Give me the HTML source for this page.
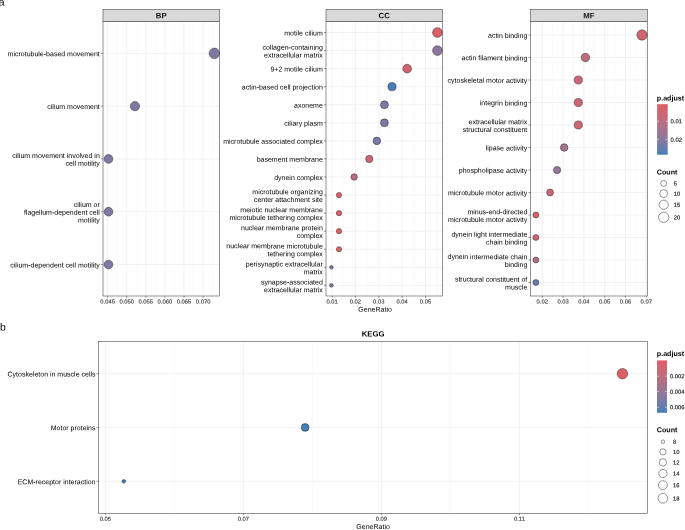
<!DOCTYPE html>
<html><head><meta charset="utf-8"><title>Enrichment dotplot</title>
<style>
html,body{margin:0;padding:0;background:#fff;}
body{width:685px;height:530px;overflow:hidden;font-family:"Liberation Sans",sans-serif;}
svg{display:block;will-change:transform;}
text{font-family:"Liberation Sans",sans-serif;}
</style></head>
<body>
<svg width="685" height="530" viewBox="0 0 685 530">
<defs><linearGradient id="grad" x1="0" y1="0" x2="0" y2="1"><stop offset="0%" stop-color="#df5e66"/><stop offset="10%" stop-color="#d5636e"/><stop offset="20%" stop-color="#ca6876"/><stop offset="30%" stop-color="#be6c7e"/><stop offset="40%" stop-color="#b27087"/><stop offset="50%" stop-color="#a5738f"/><stop offset="60%" stop-color="#977697"/><stop offset="70%" stop-color="#87799f"/><stop offset="80%" stop-color="#757ba7"/><stop offset="90%" stop-color="#5f7eb0"/><stop offset="100%" stop-color="#4080b8"/></linearGradient></defs>
<rect x="0" y="0" width="685" height="530" fill="#fff"/>
<rect x="103.00" y="21.50" width="116.50" height="274.50" fill="#fff"/>
<line x1="117.15" x2="117.15" y1="21.50" y2="296.00" stroke="#f4f4f4" stroke-width="0.45"/>
<line x1="136.25" x2="136.25" y1="21.50" y2="296.00" stroke="#f4f4f4" stroke-width="0.45"/>
<line x1="155.35" x2="155.35" y1="21.50" y2="296.00" stroke="#f4f4f4" stroke-width="0.45"/>
<line x1="174.45" x2="174.45" y1="21.50" y2="296.00" stroke="#f4f4f4" stroke-width="0.45"/>
<line x1="193.55" x2="193.55" y1="21.50" y2="296.00" stroke="#f4f4f4" stroke-width="0.45"/>
<line x1="212.65" x2="212.65" y1="21.50" y2="296.00" stroke="#f4f4f4" stroke-width="0.45"/>
<line x1="107.60" x2="107.60" y1="21.50" y2="296.00" stroke="#ededed" stroke-width="0.7"/>
<line x1="126.70" x2="126.70" y1="21.50" y2="296.00" stroke="#ededed" stroke-width="0.7"/>
<line x1="145.80" x2="145.80" y1="21.50" y2="296.00" stroke="#ededed" stroke-width="0.7"/>
<line x1="164.90" x2="164.90" y1="21.50" y2="296.00" stroke="#ededed" stroke-width="0.7"/>
<line x1="184.00" x2="184.00" y1="21.50" y2="296.00" stroke="#ededed" stroke-width="0.7"/>
<line x1="203.10" x2="203.10" y1="21.50" y2="296.00" stroke="#ededed" stroke-width="0.7"/>
<line x1="103.00" x2="219.50" y1="53.37" y2="53.37" stroke="#ededed" stroke-width="0.7"/>
<line x1="103.00" x2="219.50" y1="106.16" y2="106.16" stroke="#ededed" stroke-width="0.7"/>
<line x1="103.00" x2="219.50" y1="158.95" y2="158.95" stroke="#ededed" stroke-width="0.7"/>
<line x1="103.00" x2="219.50" y1="211.74" y2="211.74" stroke="#ededed" stroke-width="0.7"/>
<line x1="103.00" x2="219.50" y1="264.53" y2="264.53" stroke="#ededed" stroke-width="0.7"/>
<circle cx="214.35" cy="53.37" r="5.25" fill="#7f7aa3" stroke="#1a1a1a" stroke-opacity="0.88" stroke-width="0.5"/>
<text x="99.80" y="56.27" transform="rotate(0.03 99.80 56.27)" text-anchor="end" font-size="7.0" fill="#000" font-family="Liberation Sans, sans-serif">microtubule-based movement</text>
<circle cx="134.96" cy="106.16" r="4.62" fill="#7f7aa3" stroke="#1a1a1a" stroke-opacity="0.88" stroke-width="0.5"/>
<text x="99.80" y="109.06" transform="rotate(0.03 99.80 109.06)" text-anchor="end" font-size="7.0" fill="#000" font-family="Liberation Sans, sans-serif">cilium movement</text>
<circle cx="108.50" cy="158.95" r="4.37" fill="#7f7aa3" stroke="#1a1a1a" stroke-opacity="0.88" stroke-width="0.5"/>
<text x="99.80" y="158.12" transform="rotate(0.03 99.80 158.12)" text-anchor="end" font-size="7.0" fill="#000" font-family="Liberation Sans, sans-serif">cilium movement involved in</text>
<text x="99.80" y="165.88" transform="rotate(0.03 99.80 165.88)" text-anchor="end" font-size="7.0" fill="#000" font-family="Liberation Sans, sans-serif">cell motility</text>
<circle cx="108.50" cy="211.74" r="4.37" fill="#7f7aa3" stroke="#1a1a1a" stroke-opacity="0.88" stroke-width="0.5"/>
<text x="99.80" y="207.04" transform="rotate(0.03 99.80 207.04)" text-anchor="end" font-size="7.0" fill="#000" font-family="Liberation Sans, sans-serif">cilium or</text>
<text x="99.80" y="214.79" transform="rotate(0.03 99.80 214.79)" text-anchor="end" font-size="7.0" fill="#000" font-family="Liberation Sans, sans-serif">flagellum-dependent cell</text>
<text x="99.80" y="222.54" transform="rotate(0.03 99.80 222.54)" text-anchor="end" font-size="7.0" fill="#000" font-family="Liberation Sans, sans-serif">motility</text>
<circle cx="108.50" cy="264.53" r="4.37" fill="#7f7aa3" stroke="#1a1a1a" stroke-opacity="0.88" stroke-width="0.5"/>
<text x="99.80" y="267.43" transform="rotate(0.03 99.80 267.43)" text-anchor="end" font-size="7.0" fill="#000" font-family="Liberation Sans, sans-serif">cilium-dependent cell motility</text>
<rect x="103.00" y="21.50" width="116.50" height="274.50" fill="none" stroke="#3d3d3d" stroke-width="0.55"/>
<rect x="103.00" y="9.50" width="116.50" height="12.00" fill="#d9d9d9" stroke="#3d3d3d" stroke-width="0.55"/>
<text transform="rotate(0.03 161.25 18.20)" x="161.25" y="18.20" text-anchor="middle" font-size="7.8" font-weight="bold" fill="#111" font-family="Liberation Sans, sans-serif">BP</text>
<line x1="101.00" x2="103.00" y1="53.37" y2="53.37" stroke="#333" stroke-width="0.55"/>
<line x1="101.00" x2="103.00" y1="106.16" y2="106.16" stroke="#333" stroke-width="0.55"/>
<line x1="101.00" x2="103.00" y1="158.95" y2="158.95" stroke="#333" stroke-width="0.55"/>
<line x1="101.00" x2="103.00" y1="211.74" y2="211.74" stroke="#333" stroke-width="0.55"/>
<line x1="101.00" x2="103.00" y1="264.53" y2="264.53" stroke="#333" stroke-width="0.55"/>
<line x1="107.60" x2="107.60" y1="296.00" y2="297.70" stroke="#333" stroke-width="0.55"/>
<text transform="rotate(0.03 107.60 303.50)" x="107.60" y="303.50" text-anchor="middle" font-size="5.85" fill="#333" stroke="#333" stroke-width="0.12" font-family="Liberation Sans, sans-serif">0.045</text>
<line x1="126.70" x2="126.70" y1="296.00" y2="297.70" stroke="#333" stroke-width="0.55"/>
<text transform="rotate(0.03 126.70 303.50)" x="126.70" y="303.50" text-anchor="middle" font-size="5.85" fill="#333" stroke="#333" stroke-width="0.12" font-family="Liberation Sans, sans-serif">0.050</text>
<line x1="145.80" x2="145.80" y1="296.00" y2="297.70" stroke="#333" stroke-width="0.55"/>
<text transform="rotate(0.03 145.80 303.50)" x="145.80" y="303.50" text-anchor="middle" font-size="5.85" fill="#333" stroke="#333" stroke-width="0.12" font-family="Liberation Sans, sans-serif">0.055</text>
<line x1="164.90" x2="164.90" y1="296.00" y2="297.70" stroke="#333" stroke-width="0.55"/>
<text transform="rotate(0.03 164.90 303.50)" x="164.90" y="303.50" text-anchor="middle" font-size="5.85" fill="#333" stroke="#333" stroke-width="0.12" font-family="Liberation Sans, sans-serif">0.060</text>
<line x1="184.00" x2="184.00" y1="296.00" y2="297.70" stroke="#333" stroke-width="0.55"/>
<text transform="rotate(0.03 184.00 303.50)" x="184.00" y="303.50" text-anchor="middle" font-size="5.85" fill="#333" stroke="#333" stroke-width="0.12" font-family="Liberation Sans, sans-serif">0.065</text>
<line x1="203.10" x2="203.10" y1="296.00" y2="297.70" stroke="#333" stroke-width="0.55"/>
<text transform="rotate(0.03 203.10 303.50)" x="203.10" y="303.50" text-anchor="middle" font-size="5.85" fill="#333" stroke="#333" stroke-width="0.12" font-family="Liberation Sans, sans-serif">0.070</text>
<rect x="326.00" y="21.50" width="116.50" height="274.50" fill="#fff"/>
<line x1="343.78" x2="343.78" y1="21.50" y2="296.00" stroke="#f4f4f4" stroke-width="0.45"/>
<line x1="367.12" x2="367.12" y1="21.50" y2="296.00" stroke="#f4f4f4" stroke-width="0.45"/>
<line x1="390.48" x2="390.48" y1="21.50" y2="296.00" stroke="#f4f4f4" stroke-width="0.45"/>
<line x1="413.83" x2="413.83" y1="21.50" y2="296.00" stroke="#f4f4f4" stroke-width="0.45"/>
<line x1="437.18" x2="437.18" y1="21.50" y2="296.00" stroke="#f4f4f4" stroke-width="0.45"/>
<line x1="332.10" x2="332.10" y1="21.50" y2="296.00" stroke="#ededed" stroke-width="0.7"/>
<line x1="355.45" x2="355.45" y1="21.50" y2="296.00" stroke="#ededed" stroke-width="0.7"/>
<line x1="378.80" x2="378.80" y1="21.50" y2="296.00" stroke="#ededed" stroke-width="0.7"/>
<line x1="402.15" x2="402.15" y1="21.50" y2="296.00" stroke="#ededed" stroke-width="0.7"/>
<line x1="425.50" x2="425.50" y1="21.50" y2="296.00" stroke="#ededed" stroke-width="0.7"/>
<line x1="326.00" x2="442.50" y1="32.54" y2="32.54" stroke="#ededed" stroke-width="0.7"/>
<line x1="326.00" x2="442.50" y1="50.59" y2="50.59" stroke="#ededed" stroke-width="0.7"/>
<line x1="326.00" x2="442.50" y1="68.65" y2="68.65" stroke="#ededed" stroke-width="0.7"/>
<line x1="326.00" x2="442.50" y1="86.71" y2="86.71" stroke="#ededed" stroke-width="0.7"/>
<line x1="326.00" x2="442.50" y1="104.77" y2="104.77" stroke="#ededed" stroke-width="0.7"/>
<line x1="326.00" x2="442.50" y1="122.83" y2="122.83" stroke="#ededed" stroke-width="0.7"/>
<line x1="326.00" x2="442.50" y1="140.89" y2="140.89" stroke="#ededed" stroke-width="0.7"/>
<line x1="326.00" x2="442.50" y1="158.95" y2="158.95" stroke="#ededed" stroke-width="0.7"/>
<line x1="326.00" x2="442.50" y1="177.01" y2="177.01" stroke="#ededed" stroke-width="0.7"/>
<line x1="326.00" x2="442.50" y1="195.07" y2="195.07" stroke="#ededed" stroke-width="0.7"/>
<line x1="326.00" x2="442.50" y1="213.13" y2="213.13" stroke="#ededed" stroke-width="0.7"/>
<line x1="326.00" x2="442.50" y1="231.19" y2="231.19" stroke="#ededed" stroke-width="0.7"/>
<line x1="326.00" x2="442.50" y1="249.25" y2="249.25" stroke="#ededed" stroke-width="0.7"/>
<line x1="326.00" x2="442.50" y1="267.31" y2="267.31" stroke="#ededed" stroke-width="0.7"/>
<line x1="326.00" x2="442.50" y1="285.36" y2="285.36" stroke="#ededed" stroke-width="0.7"/>
<circle cx="437.44" cy="32.54" r="4.84" fill="#dd5f68" stroke="#1a1a1a" stroke-opacity="0.88" stroke-width="0.5"/>
<text x="322.80" y="35.44" transform="rotate(0.03 322.80 35.44)" text-anchor="end" font-size="7.0" fill="#000" font-family="Liberation Sans, sans-serif">motile cilium</text>
<circle cx="437.44" cy="50.59" r="4.84" fill="#8f779b" stroke="#1a1a1a" stroke-opacity="0.88" stroke-width="0.5"/>
<text x="322.80" y="49.77" transform="rotate(0.03 322.80 49.77)" text-anchor="end" font-size="7.0" fill="#000" font-family="Liberation Sans, sans-serif">collagen-containing</text>
<text x="322.80" y="57.52" transform="rotate(0.03 322.80 57.52)" text-anchor="end" font-size="7.0" fill="#000" font-family="Liberation Sans, sans-serif">extracellular matrix</text>
<circle cx="407.15" cy="68.65" r="4.37" fill="#d26470" stroke="#1a1a1a" stroke-opacity="0.88" stroke-width="0.5"/>
<text x="322.80" y="71.55" transform="rotate(0.03 322.80 71.55)" text-anchor="end" font-size="7.0" fill="#000" font-family="Liberation Sans, sans-serif">9+2 motile cilium</text>
<circle cx="392.00" cy="86.71" r="4.10" fill="#4b7fb5" stroke="#1a1a1a" stroke-opacity="0.88" stroke-width="0.5"/>
<text x="322.80" y="89.61" transform="rotate(0.03 322.80 89.61)" text-anchor="end" font-size="7.0" fill="#000" font-family="Liberation Sans, sans-serif">actin-based cell projection</text>
<circle cx="384.43" cy="104.77" r="3.96" fill="#7f7aa3" stroke="#1a1a1a" stroke-opacity="0.88" stroke-width="0.5"/>
<text x="322.80" y="107.67" transform="rotate(0.03 322.80 107.67)" text-anchor="end" font-size="7.0" fill="#000" font-family="Liberation Sans, sans-serif">axoneme</text>
<circle cx="384.43" cy="122.83" r="3.96" fill="#7f7aa3" stroke="#1a1a1a" stroke-opacity="0.88" stroke-width="0.5"/>
<text x="322.80" y="125.73" transform="rotate(0.03 322.80 125.73)" text-anchor="end" font-size="7.0" fill="#000" font-family="Liberation Sans, sans-serif">ciliary plasm</text>
<circle cx="376.86" cy="140.89" r="3.80" fill="#797ba6" stroke="#1a1a1a" stroke-opacity="0.88" stroke-width="0.5"/>
<text x="322.80" y="143.79" transform="rotate(0.03 322.80 143.79)" text-anchor="end" font-size="7.0" fill="#000" font-family="Liberation Sans, sans-serif">microtubule associated complex</text>
<circle cx="369.28" cy="158.95" r="3.62" fill="#ca6876" stroke="#1a1a1a" stroke-opacity="0.88" stroke-width="0.5"/>
<text x="322.80" y="161.85" transform="rotate(0.03 322.80 161.85)" text-anchor="end" font-size="7.0" fill="#000" font-family="Liberation Sans, sans-serif">basement membrane</text>
<circle cx="354.14" cy="177.01" r="3.22" fill="#b76e83" stroke="#1a1a1a" stroke-opacity="0.88" stroke-width="0.5"/>
<text x="322.80" y="179.91" transform="rotate(0.03 322.80 179.91)" text-anchor="end" font-size="7.0" fill="#000" font-family="Liberation Sans, sans-serif">dynein complex</text>
<circle cx="338.99" cy="195.07" r="2.62" fill="#da616a" stroke="#1a1a1a" stroke-opacity="0.88" stroke-width="0.5"/>
<text x="322.80" y="194.24" transform="rotate(0.03 322.80 194.24)" text-anchor="end" font-size="7.0" fill="#000" font-family="Liberation Sans, sans-serif">microtubule organizing</text>
<text x="322.80" y="201.99" transform="rotate(0.03 322.80 201.99)" text-anchor="end" font-size="7.0" fill="#000" font-family="Liberation Sans, sans-serif">center attachment site</text>
<circle cx="338.99" cy="213.13" r="2.62" fill="#da616a" stroke="#1a1a1a" stroke-opacity="0.88" stroke-width="0.5"/>
<text x="322.80" y="212.30" transform="rotate(0.03 322.80 212.30)" text-anchor="end" font-size="7.0" fill="#000" font-family="Liberation Sans, sans-serif">meiotic nuclear membrane</text>
<text x="322.80" y="220.05" transform="rotate(0.03 322.80 220.05)" text-anchor="end" font-size="7.0" fill="#000" font-family="Liberation Sans, sans-serif">microtubule tethering complex</text>
<circle cx="338.99" cy="231.19" r="2.62" fill="#da616a" stroke="#1a1a1a" stroke-opacity="0.88" stroke-width="0.5"/>
<text x="322.80" y="230.36" transform="rotate(0.03 322.80 230.36)" text-anchor="end" font-size="7.0" fill="#000" font-family="Liberation Sans, sans-serif">nuclear membrane protein</text>
<text x="322.80" y="238.11" transform="rotate(0.03 322.80 238.11)" text-anchor="end" font-size="7.0" fill="#000" font-family="Liberation Sans, sans-serif">complex</text>
<circle cx="338.99" cy="249.25" r="2.62" fill="#da616a" stroke="#1a1a1a" stroke-opacity="0.88" stroke-width="0.5"/>
<text x="322.80" y="248.42" transform="rotate(0.03 322.80 248.42)" text-anchor="end" font-size="7.0" fill="#000" font-family="Liberation Sans, sans-serif">nuclear membrane microtubule</text>
<text x="322.80" y="256.17" transform="rotate(0.03 322.80 256.17)" text-anchor="end" font-size="7.0" fill="#000" font-family="Liberation Sans, sans-serif">tethering complex</text>
<circle cx="331.42" cy="267.31" r="1.81" fill="#7d7aa4" stroke="#1a1a1a" stroke-opacity="0.88" stroke-width="0.5"/>
<text x="322.80" y="266.48" transform="rotate(0.03 322.80 266.48)" text-anchor="end" font-size="7.0" fill="#000" font-family="Liberation Sans, sans-serif">perisynaptic extracellular</text>
<text x="322.80" y="274.23" transform="rotate(0.03 322.80 274.23)" text-anchor="end" font-size="7.0" fill="#000" font-family="Liberation Sans, sans-serif">matrix</text>
<circle cx="331.42" cy="285.36" r="1.81" fill="#7d7aa4" stroke="#1a1a1a" stroke-opacity="0.88" stroke-width="0.5"/>
<text x="322.80" y="284.54" transform="rotate(0.03 322.80 284.54)" text-anchor="end" font-size="7.0" fill="#000" font-family="Liberation Sans, sans-serif">synapse-associated</text>
<text x="322.80" y="292.29" transform="rotate(0.03 322.80 292.29)" text-anchor="end" font-size="7.0" fill="#000" font-family="Liberation Sans, sans-serif">extracellular matrix</text>
<rect x="326.00" y="21.50" width="116.50" height="274.50" fill="none" stroke="#3d3d3d" stroke-width="0.55"/>
<rect x="326.00" y="9.50" width="116.50" height="12.00" fill="#d9d9d9" stroke="#3d3d3d" stroke-width="0.55"/>
<text transform="rotate(0.03 384.25 18.20)" x="384.25" y="18.20" text-anchor="middle" font-size="7.8" font-weight="bold" fill="#111" font-family="Liberation Sans, sans-serif">CC</text>
<line x1="324.00" x2="326.00" y1="32.54" y2="32.54" stroke="#333" stroke-width="0.55"/>
<line x1="324.00" x2="326.00" y1="50.59" y2="50.59" stroke="#333" stroke-width="0.55"/>
<line x1="324.00" x2="326.00" y1="68.65" y2="68.65" stroke="#333" stroke-width="0.55"/>
<line x1="324.00" x2="326.00" y1="86.71" y2="86.71" stroke="#333" stroke-width="0.55"/>
<line x1="324.00" x2="326.00" y1="104.77" y2="104.77" stroke="#333" stroke-width="0.55"/>
<line x1="324.00" x2="326.00" y1="122.83" y2="122.83" stroke="#333" stroke-width="0.55"/>
<line x1="324.00" x2="326.00" y1="140.89" y2="140.89" stroke="#333" stroke-width="0.55"/>
<line x1="324.00" x2="326.00" y1="158.95" y2="158.95" stroke="#333" stroke-width="0.55"/>
<line x1="324.00" x2="326.00" y1="177.01" y2="177.01" stroke="#333" stroke-width="0.55"/>
<line x1="324.00" x2="326.00" y1="195.07" y2="195.07" stroke="#333" stroke-width="0.55"/>
<line x1="324.00" x2="326.00" y1="213.13" y2="213.13" stroke="#333" stroke-width="0.55"/>
<line x1="324.00" x2="326.00" y1="231.19" y2="231.19" stroke="#333" stroke-width="0.55"/>
<line x1="324.00" x2="326.00" y1="249.25" y2="249.25" stroke="#333" stroke-width="0.55"/>
<line x1="324.00" x2="326.00" y1="267.31" y2="267.31" stroke="#333" stroke-width="0.55"/>
<line x1="324.00" x2="326.00" y1="285.36" y2="285.36" stroke="#333" stroke-width="0.55"/>
<line x1="332.10" x2="332.10" y1="296.00" y2="297.70" stroke="#333" stroke-width="0.55"/>
<text transform="rotate(0.03 332.10 303.50)" x="332.10" y="303.50" text-anchor="middle" font-size="5.85" fill="#333" stroke="#333" stroke-width="0.12" font-family="Liberation Sans, sans-serif">0.01</text>
<line x1="355.45" x2="355.45" y1="296.00" y2="297.70" stroke="#333" stroke-width="0.55"/>
<text transform="rotate(0.03 355.45 303.50)" x="355.45" y="303.50" text-anchor="middle" font-size="5.85" fill="#333" stroke="#333" stroke-width="0.12" font-family="Liberation Sans, sans-serif">0.02</text>
<line x1="378.80" x2="378.80" y1="296.00" y2="297.70" stroke="#333" stroke-width="0.55"/>
<text transform="rotate(0.03 378.80 303.50)" x="378.80" y="303.50" text-anchor="middle" font-size="5.85" fill="#333" stroke="#333" stroke-width="0.12" font-family="Liberation Sans, sans-serif">0.03</text>
<line x1="402.15" x2="402.15" y1="296.00" y2="297.70" stroke="#333" stroke-width="0.55"/>
<text transform="rotate(0.03 402.15 303.50)" x="402.15" y="303.50" text-anchor="middle" font-size="5.85" fill="#333" stroke="#333" stroke-width="0.12" font-family="Liberation Sans, sans-serif">0.04</text>
<line x1="425.50" x2="425.50" y1="296.00" y2="297.70" stroke="#333" stroke-width="0.55"/>
<text transform="rotate(0.03 425.50 303.50)" x="425.50" y="303.50" text-anchor="middle" font-size="5.85" fill="#333" stroke="#333" stroke-width="0.12" font-family="Liberation Sans, sans-serif">0.05</text>
<rect x="530.50" y="21.50" width="117.00" height="274.50" fill="#fff"/>
<line x1="531.90" x2="531.90" y1="21.50" y2="296.00" stroke="#f4f4f4" stroke-width="0.45"/>
<line x1="552.70" x2="552.70" y1="21.50" y2="296.00" stroke="#f4f4f4" stroke-width="0.45"/>
<line x1="573.50" x2="573.50" y1="21.50" y2="296.00" stroke="#f4f4f4" stroke-width="0.45"/>
<line x1="594.30" x2="594.30" y1="21.50" y2="296.00" stroke="#f4f4f4" stroke-width="0.45"/>
<line x1="615.10" x2="615.10" y1="21.50" y2="296.00" stroke="#f4f4f4" stroke-width="0.45"/>
<line x1="635.90" x2="635.90" y1="21.50" y2="296.00" stroke="#f4f4f4" stroke-width="0.45"/>
<line x1="542.30" x2="542.30" y1="21.50" y2="296.00" stroke="#ededed" stroke-width="0.7"/>
<line x1="563.10" x2="563.10" y1="21.50" y2="296.00" stroke="#ededed" stroke-width="0.7"/>
<line x1="583.90" x2="583.90" y1="21.50" y2="296.00" stroke="#ededed" stroke-width="0.7"/>
<line x1="604.70" x2="604.70" y1="21.50" y2="296.00" stroke="#ededed" stroke-width="0.7"/>
<line x1="625.50" x2="625.50" y1="21.50" y2="296.00" stroke="#ededed" stroke-width="0.7"/>
<line x1="646.30" x2="646.30" y1="21.50" y2="296.00" stroke="#ededed" stroke-width="0.7"/>
<line x1="530.50" x2="647.50" y1="35.00" y2="35.00" stroke="#ededed" stroke-width="0.7"/>
<line x1="530.50" x2="647.50" y1="57.50" y2="57.50" stroke="#ededed" stroke-width="0.7"/>
<line x1="530.50" x2="647.50" y1="80.00" y2="80.00" stroke="#ededed" stroke-width="0.7"/>
<line x1="530.50" x2="647.50" y1="102.50" y2="102.50" stroke="#ededed" stroke-width="0.7"/>
<line x1="530.50" x2="647.50" y1="125.00" y2="125.00" stroke="#ededed" stroke-width="0.7"/>
<line x1="530.50" x2="647.50" y1="147.50" y2="147.50" stroke="#ededed" stroke-width="0.7"/>
<line x1="530.50" x2="647.50" y1="170.00" y2="170.00" stroke="#ededed" stroke-width="0.7"/>
<line x1="530.50" x2="647.50" y1="192.50" y2="192.50" stroke="#ededed" stroke-width="0.7"/>
<line x1="530.50" x2="647.50" y1="215.00" y2="215.00" stroke="#ededed" stroke-width="0.7"/>
<line x1="530.50" x2="647.50" y1="237.50" y2="237.50" stroke="#ededed" stroke-width="0.7"/>
<line x1="530.50" x2="647.50" y1="260.00" y2="260.00" stroke="#ededed" stroke-width="0.7"/>
<line x1="530.50" x2="647.50" y1="282.50" y2="282.50" stroke="#ededed" stroke-width="0.7"/>
<circle cx="642.00" cy="35.00" r="5.15" fill="#cf6572" stroke="#1a1a1a" stroke-opacity="0.88" stroke-width="0.5"/>
<text x="527.30" y="37.90" transform="rotate(0.03 527.30 37.90)" text-anchor="end" font-size="7.0" fill="#000" font-family="Liberation Sans, sans-serif">actin binding</text>
<circle cx="585.41" cy="57.50" r="4.24" fill="#be6c7e" stroke="#1a1a1a" stroke-opacity="0.88" stroke-width="0.5"/>
<text x="527.30" y="60.40" transform="rotate(0.03 527.30 60.40)" text-anchor="end" font-size="7.0" fill="#000" font-family="Liberation Sans, sans-serif">actin filament binding</text>
<circle cx="578.34" cy="80.00" r="4.10" fill="#cd6674" stroke="#1a1a1a" stroke-opacity="0.88" stroke-width="0.5"/>
<text x="527.30" y="82.90" transform="rotate(0.03 527.30 82.90)" text-anchor="end" font-size="7.0" fill="#000" font-family="Liberation Sans, sans-serif">cytoskeletal motor activity</text>
<circle cx="578.34" cy="102.50" r="4.10" fill="#cd6674" stroke="#1a1a1a" stroke-opacity="0.88" stroke-width="0.5"/>
<text x="527.30" y="105.40" transform="rotate(0.03 527.30 105.40)" text-anchor="end" font-size="7.0" fill="#000" font-family="Liberation Sans, sans-serif">integrin binding</text>
<circle cx="578.34" cy="125.00" r="4.10" fill="#ca6876" stroke="#1a1a1a" stroke-opacity="0.88" stroke-width="0.5"/>
<text x="527.30" y="124.18" transform="rotate(0.03 527.30 124.18)" text-anchor="end" font-size="7.0" fill="#000" font-family="Liberation Sans, sans-serif">extracellular matrix</text>
<text x="527.30" y="131.93" transform="rotate(0.03 527.30 131.93)" text-anchor="end" font-size="7.0" fill="#000" font-family="Liberation Sans, sans-serif">structural constituent</text>
<circle cx="564.19" cy="147.50" r="3.80" fill="#a5738f" stroke="#1a1a1a" stroke-opacity="0.88" stroke-width="0.5"/>
<text x="527.30" y="150.40" transform="rotate(0.03 527.30 150.40)" text-anchor="end" font-size="7.0" fill="#000" font-family="Liberation Sans, sans-serif">lipase activity</text>
<circle cx="557.12" cy="170.00" r="3.62" fill="#947799" stroke="#1a1a1a" stroke-opacity="0.88" stroke-width="0.5"/>
<text x="527.30" y="172.90" transform="rotate(0.03 527.30 172.90)" text-anchor="end" font-size="7.0" fill="#000" font-family="Liberation Sans, sans-serif">phospholipase activity</text>
<circle cx="550.05" cy="192.50" r="3.43" fill="#ca6876" stroke="#1a1a1a" stroke-opacity="0.88" stroke-width="0.5"/>
<text x="527.30" y="195.40" transform="rotate(0.03 527.30 195.40)" text-anchor="end" font-size="7.0" fill="#000" font-family="Liberation Sans, sans-serif">microtubule motor activity</text>
<circle cx="535.90" cy="215.00" r="2.96" fill="#da616a" stroke="#1a1a1a" stroke-opacity="0.88" stroke-width="0.5"/>
<text x="527.30" y="214.18" transform="rotate(0.03 527.30 214.18)" text-anchor="end" font-size="7.0" fill="#000" font-family="Liberation Sans, sans-serif">minus-end-directed</text>
<text x="527.30" y="221.93" transform="rotate(0.03 527.30 221.93)" text-anchor="end" font-size="7.0" fill="#000" font-family="Liberation Sans, sans-serif">microtubule motor activity</text>
<circle cx="535.90" cy="237.50" r="2.96" fill="#ca6876" stroke="#1a1a1a" stroke-opacity="0.88" stroke-width="0.5"/>
<text x="527.30" y="236.68" transform="rotate(0.03 527.30 236.68)" text-anchor="end" font-size="7.0" fill="#000" font-family="Liberation Sans, sans-serif">dynein light intermediate</text>
<text x="527.30" y="244.43" transform="rotate(0.03 527.30 244.43)" text-anchor="end" font-size="7.0" fill="#000" font-family="Liberation Sans, sans-serif">chain binding</text>
<circle cx="535.90" cy="260.00" r="2.96" fill="#ac718b" stroke="#1a1a1a" stroke-opacity="0.88" stroke-width="0.5"/>
<text x="527.30" y="259.17" transform="rotate(0.03 527.30 259.17)" text-anchor="end" font-size="7.0" fill="#000" font-family="Liberation Sans, sans-serif">dynein intermediate chain</text>
<text x="527.30" y="266.92" transform="rotate(0.03 527.30 266.92)" text-anchor="end" font-size="7.0" fill="#000" font-family="Liberation Sans, sans-serif">binding</text>
<circle cx="535.90" cy="282.50" r="2.96" fill="#687dac" stroke="#1a1a1a" stroke-opacity="0.88" stroke-width="0.5"/>
<text x="527.30" y="281.67" transform="rotate(0.03 527.30 281.67)" text-anchor="end" font-size="7.0" fill="#000" font-family="Liberation Sans, sans-serif">structural constituent of</text>
<text x="527.30" y="289.42" transform="rotate(0.03 527.30 289.42)" text-anchor="end" font-size="7.0" fill="#000" font-family="Liberation Sans, sans-serif">muscle</text>
<rect x="530.50" y="21.50" width="117.00" height="274.50" fill="none" stroke="#3d3d3d" stroke-width="0.55"/>
<rect x="530.50" y="9.50" width="117.00" height="12.00" fill="#d9d9d9" stroke="#3d3d3d" stroke-width="0.55"/>
<text transform="rotate(0.03 589.00 18.20)" x="589.00" y="18.20" text-anchor="middle" font-size="7.8" font-weight="bold" fill="#111" font-family="Liberation Sans, sans-serif">MF</text>
<line x1="528.50" x2="530.50" y1="35.00" y2="35.00" stroke="#333" stroke-width="0.55"/>
<line x1="528.50" x2="530.50" y1="57.50" y2="57.50" stroke="#333" stroke-width="0.55"/>
<line x1="528.50" x2="530.50" y1="80.00" y2="80.00" stroke="#333" stroke-width="0.55"/>
<line x1="528.50" x2="530.50" y1="102.50" y2="102.50" stroke="#333" stroke-width="0.55"/>
<line x1="528.50" x2="530.50" y1="125.00" y2="125.00" stroke="#333" stroke-width="0.55"/>
<line x1="528.50" x2="530.50" y1="147.50" y2="147.50" stroke="#333" stroke-width="0.55"/>
<line x1="528.50" x2="530.50" y1="170.00" y2="170.00" stroke="#333" stroke-width="0.55"/>
<line x1="528.50" x2="530.50" y1="192.50" y2="192.50" stroke="#333" stroke-width="0.55"/>
<line x1="528.50" x2="530.50" y1="215.00" y2="215.00" stroke="#333" stroke-width="0.55"/>
<line x1="528.50" x2="530.50" y1="237.50" y2="237.50" stroke="#333" stroke-width="0.55"/>
<line x1="528.50" x2="530.50" y1="260.00" y2="260.00" stroke="#333" stroke-width="0.55"/>
<line x1="528.50" x2="530.50" y1="282.50" y2="282.50" stroke="#333" stroke-width="0.55"/>
<line x1="542.30" x2="542.30" y1="296.00" y2="297.70" stroke="#333" stroke-width="0.55"/>
<text transform="rotate(0.03 542.30 303.50)" x="542.30" y="303.50" text-anchor="middle" font-size="5.85" fill="#333" stroke="#333" stroke-width="0.12" font-family="Liberation Sans, sans-serif">0.02</text>
<line x1="563.10" x2="563.10" y1="296.00" y2="297.70" stroke="#333" stroke-width="0.55"/>
<text transform="rotate(0.03 563.10 303.50)" x="563.10" y="303.50" text-anchor="middle" font-size="5.85" fill="#333" stroke="#333" stroke-width="0.12" font-family="Liberation Sans, sans-serif">0.03</text>
<line x1="583.90" x2="583.90" y1="296.00" y2="297.70" stroke="#333" stroke-width="0.55"/>
<text transform="rotate(0.03 583.90 303.50)" x="583.90" y="303.50" text-anchor="middle" font-size="5.85" fill="#333" stroke="#333" stroke-width="0.12" font-family="Liberation Sans, sans-serif">0.04</text>
<line x1="604.70" x2="604.70" y1="296.00" y2="297.70" stroke="#333" stroke-width="0.55"/>
<text transform="rotate(0.03 604.70 303.50)" x="604.70" y="303.50" text-anchor="middle" font-size="5.85" fill="#333" stroke="#333" stroke-width="0.12" font-family="Liberation Sans, sans-serif">0.05</text>
<line x1="625.50" x2="625.50" y1="296.00" y2="297.70" stroke="#333" stroke-width="0.55"/>
<text transform="rotate(0.03 625.50 303.50)" x="625.50" y="303.50" text-anchor="middle" font-size="5.85" fill="#333" stroke="#333" stroke-width="0.12" font-family="Liberation Sans, sans-serif">0.06</text>
<line x1="646.30" x2="646.30" y1="296.00" y2="297.70" stroke="#333" stroke-width="0.55"/>
<text transform="rotate(0.03 646.30 303.50)" x="646.30" y="303.50" text-anchor="middle" font-size="5.85" fill="#333" stroke="#333" stroke-width="0.12" font-family="Liberation Sans, sans-serif">0.07</text>
<text transform="rotate(0.03 375.1 311.8)" x="375.1" y="311.8" text-anchor="middle" font-size="7" fill="#000" font-family="Liberation Sans, sans-serif">GeneRatio</text>
<text transform="rotate(0.03 -1.3 5.6)" x="-1.3" y="5.6" font-size="10.4" fill="#000" font-family="Liberation Sans, sans-serif">a</text>
<text transform="rotate(0.03 0.1 330.5)" x="0.1" y="330.5" font-size="10.4" fill="#000" font-family="Liberation Sans, sans-serif">b</text>
<text transform="rotate(0.03 656.80 100.40)" x="656.80" y="100.40" font-size="7.15" font-weight="bold" fill="#000" font-family="Liberation Sans, sans-serif">p.adjust</text>
<rect x="657.10" y="104.20" width="10.60" height="50.50" fill="url(#grad)"/>
<line x1="657.10" x2="659.22" y1="121.20" y2="121.20" stroke="#fff" stroke-width="0.5"/>
<line x1="665.58" x2="667.70" y1="121.20" y2="121.20" stroke="#fff" stroke-width="0.5"/>
<text transform="rotate(0.03 670.60 123.30)" x="670.60" y="123.30" font-size="5.85" fill="#000" stroke="#000" stroke-width="0.1" font-family="Liberation Sans, sans-serif">0.01</text>
<line x1="657.10" x2="659.22" y1="139.60" y2="139.60" stroke="#fff" stroke-width="0.5"/>
<line x1="665.58" x2="667.70" y1="139.60" y2="139.60" stroke="#fff" stroke-width="0.5"/>
<text transform="rotate(0.03 670.60 141.70)" x="670.60" y="141.70" font-size="5.85" fill="#000" stroke="#000" stroke-width="0.1" font-family="Liberation Sans, sans-serif">0.02</text>
<text transform="rotate(0.03 656.80 174.60)" x="656.80" y="174.60" font-size="7.15" font-weight="bold" fill="#000" font-family="Liberation Sans, sans-serif">Count</text>
<circle cx="663.70" cy="183.40" r="2.96" fill="#fff" stroke="#2a2a2a" stroke-width="0.5"/>
<text transform="rotate(0.03 673.70 185.50)" x="673.70" y="185.50" font-size="5.85" fill="#000" stroke="#000" stroke-width="0.1" font-family="Liberation Sans, sans-serif">5</text>
<circle cx="663.70" cy="193.60" r="3.96" fill="#fff" stroke="#2a2a2a" stroke-width="0.5"/>
<text transform="rotate(0.03 673.70 195.70)" x="673.70" y="195.70" font-size="5.85" fill="#000" stroke="#000" stroke-width="0.1" font-family="Liberation Sans, sans-serif">10</text>
<circle cx="663.70" cy="204.70" r="4.62" fill="#fff" stroke="#2a2a2a" stroke-width="0.5"/>
<text transform="rotate(0.03 673.70 206.80)" x="673.70" y="206.80" font-size="5.85" fill="#000" stroke="#000" stroke-width="0.1" font-family="Liberation Sans, sans-serif">15</text>
<circle cx="663.70" cy="217.30" r="5.15" fill="#fff" stroke="#2a2a2a" stroke-width="0.5"/>
<text transform="rotate(0.03 673.70 219.40)" x="673.70" y="219.40" font-size="5.85" fill="#000" stroke="#000" stroke-width="0.1" font-family="Liberation Sans, sans-serif">20</text>
<rect x="98.50" y="341.50" width="549.00" height="171.80" fill="#fff"/>
<line x1="174.37" x2="174.37" y1="341.50" y2="513.30" stroke="#f4f4f4" stroke-width="0.45"/>
<line x1="312.40" x2="312.40" y1="341.50" y2="513.30" stroke="#f4f4f4" stroke-width="0.45"/>
<line x1="450.44" x2="450.44" y1="341.50" y2="513.30" stroke="#f4f4f4" stroke-width="0.45"/>
<line x1="588.47" x2="588.47" y1="341.50" y2="513.30" stroke="#f4f4f4" stroke-width="0.45"/>
<line x1="105.35" x2="105.35" y1="341.50" y2="513.30" stroke="#ededed" stroke-width="0.7"/>
<line x1="243.38" x2="243.38" y1="341.50" y2="513.30" stroke="#ededed" stroke-width="0.7"/>
<line x1="381.42" x2="381.42" y1="341.50" y2="513.30" stroke="#ededed" stroke-width="0.7"/>
<line x1="519.45" x2="519.45" y1="341.50" y2="513.30" stroke="#ededed" stroke-width="0.7"/>
<line x1="98.50" x2="647.50" y1="373.65" y2="373.65" stroke="#ededed" stroke-width="0.7"/>
<line x1="98.50" x2="647.50" y1="427.40" y2="427.40" stroke="#ededed" stroke-width="0.7"/>
<line x1="98.50" x2="647.50" y1="481.30" y2="481.30" stroke="#ededed" stroke-width="0.7"/>
<circle cx="622.46" cy="373.65" r="5.25" fill="#dd5f68" stroke="#1a1a1a" stroke-opacity="0.88" stroke-width="0.5"/>
<text x="95.50" y="376.55" transform="rotate(0.03 95.50 376.55)" text-anchor="end" font-size="7" fill="#000" font-family="Liberation Sans, sans-serif">Cytoskeleton in muscle cells</text>
<circle cx="305.13" cy="427.40" r="3.89" fill="#4780b6" stroke="#1a1a1a" stroke-opacity="0.88" stroke-width="0.5"/>
<text x="95.50" y="430.30" transform="rotate(0.03 95.50 430.30)" text-anchor="end" font-size="7" fill="#000" font-family="Liberation Sans, sans-serif">Motor proteins</text>
<circle cx="123.80" cy="481.30" r="1.81" fill="#4080b8" stroke="#1a1a1a" stroke-opacity="0.88" stroke-width="0.5"/>
<text x="95.50" y="484.20" transform="rotate(0.03 95.50 484.20)" text-anchor="end" font-size="7" fill="#000" font-family="Liberation Sans, sans-serif">ECM-receptor interaction</text>
<rect x="98.50" y="341.50" width="549.00" height="171.80" fill="none" stroke="#3d3d3d" stroke-width="0.55"/>
<line x1="96.50" x2="98.50" y1="373.65" y2="373.65" stroke="#333" stroke-width="0.55"/>
<line x1="96.50" x2="98.50" y1="427.40" y2="427.40" stroke="#333" stroke-width="0.55"/>
<line x1="96.50" x2="98.50" y1="481.30" y2="481.30" stroke="#333" stroke-width="0.55"/>
<line x1="105.35" x2="105.35" y1="513.30" y2="515.00" stroke="#333" stroke-width="0.55"/>
<text transform="rotate(0.03 105.35 520.80)" x="105.35" y="520.80" text-anchor="middle" font-size="5.85" fill="#333" stroke="#333" stroke-width="0.12" font-family="Liberation Sans, sans-serif">0.05</text>
<line x1="243.38" x2="243.38" y1="513.30" y2="515.00" stroke="#333" stroke-width="0.55"/>
<text transform="rotate(0.03 243.38 520.80)" x="243.38" y="520.80" text-anchor="middle" font-size="5.85" fill="#333" stroke="#333" stroke-width="0.12" font-family="Liberation Sans, sans-serif">0.07</text>
<line x1="381.42" x2="381.42" y1="513.30" y2="515.00" stroke="#333" stroke-width="0.55"/>
<text transform="rotate(0.03 381.42 520.80)" x="381.42" y="520.80" text-anchor="middle" font-size="5.85" fill="#333" stroke="#333" stroke-width="0.12" font-family="Liberation Sans, sans-serif">0.09</text>
<line x1="519.45" x2="519.45" y1="513.30" y2="515.00" stroke="#333" stroke-width="0.55"/>
<text transform="rotate(0.03 519.45 520.80)" x="519.45" y="520.80" text-anchor="middle" font-size="5.85" fill="#333" stroke="#333" stroke-width="0.12" font-family="Liberation Sans, sans-serif">0.11</text>
<text transform="rotate(0.03 373.1 336.6)" x="373.1" y="336.6" text-anchor="middle" font-size="7.7" font-weight="bold" fill="#000" font-family="Liberation Sans, sans-serif">KEGG</text>
<text transform="rotate(0.03 373.1 528.9)" x="373.1" y="528.9" text-anchor="middle" font-size="7" fill="#000" font-family="Liberation Sans, sans-serif">GeneRatio</text>
<text transform="rotate(0.03 656.80 356.10)" x="656.80" y="356.10" font-size="7.15" font-weight="bold" fill="#000" font-family="Liberation Sans, sans-serif">p.adjust</text>
<rect x="657.00" y="360.40" width="10.00" height="52.40" fill="url(#grad)"/>
<line x1="657.00" x2="659.00" y1="376.20" y2="376.20" stroke="#fff" stroke-width="0.5"/>
<line x1="665.00" x2="667.00" y1="376.20" y2="376.20" stroke="#fff" stroke-width="0.5"/>
<text transform="rotate(0.03 670.00 378.30)" x="670.00" y="378.30" font-size="5.85" fill="#000" stroke="#000" stroke-width="0.1" font-family="Liberation Sans, sans-serif">0.002</text>
<line x1="657.00" x2="659.00" y1="391.60" y2="391.60" stroke="#fff" stroke-width="0.5"/>
<line x1="665.00" x2="667.00" y1="391.60" y2="391.60" stroke="#fff" stroke-width="0.5"/>
<text transform="rotate(0.03 670.00 393.70)" x="670.00" y="393.70" font-size="5.85" fill="#000" stroke="#000" stroke-width="0.1" font-family="Liberation Sans, sans-serif">0.004</text>
<line x1="657.00" x2="659.00" y1="407.20" y2="407.20" stroke="#fff" stroke-width="0.5"/>
<line x1="665.00" x2="667.00" y1="407.20" y2="407.20" stroke="#fff" stroke-width="0.5"/>
<text transform="rotate(0.03 670.00 409.30)" x="670.00" y="409.30" font-size="5.85" fill="#000" stroke="#000" stroke-width="0.1" font-family="Liberation Sans, sans-serif">0.006</text>
<text transform="rotate(0.03 656.80 432.20)" x="656.80" y="432.20" font-size="7.15" font-weight="bold" fill="#000" font-family="Liberation Sans, sans-serif">Count</text>
<circle cx="662.90" cy="441.70" r="1.77" fill="#fff" stroke="#2a2a2a" stroke-width="0.5"/>
<text transform="rotate(0.03 673.00 443.80)" x="673.00" y="443.80" font-size="5.85" fill="#000" stroke="#000" stroke-width="0.1" font-family="Liberation Sans, sans-serif">8</text>
<circle cx="662.90" cy="451.80" r="3.13" fill="#fff" stroke="#2a2a2a" stroke-width="0.5"/>
<text transform="rotate(0.03 673.00 453.90)" x="673.00" y="453.90" font-size="5.85" fill="#000" stroke="#000" stroke-width="0.1" font-family="Liberation Sans, sans-serif">10</text>
<circle cx="662.90" cy="462.40" r="3.70" fill="#fff" stroke="#2a2a2a" stroke-width="0.5"/>
<text transform="rotate(0.03 673.00 464.50)" x="673.00" y="464.50" font-size="5.85" fill="#000" stroke="#000" stroke-width="0.1" font-family="Liberation Sans, sans-serif">12</text>
<circle cx="662.90" cy="473.50" r="4.13" fill="#fff" stroke="#2a2a2a" stroke-width="0.5"/>
<text transform="rotate(0.03 673.00 475.60)" x="673.00" y="475.60" font-size="5.85" fill="#000" stroke="#000" stroke-width="0.1" font-family="Liberation Sans, sans-serif">14</text>
<circle cx="662.90" cy="485.20" r="4.49" fill="#fff" stroke="#2a2a2a" stroke-width="0.5"/>
<text transform="rotate(0.03 673.00 487.30)" x="673.00" y="487.30" font-size="5.85" fill="#000" stroke="#000" stroke-width="0.1" font-family="Liberation Sans, sans-serif">16</text>
<circle cx="662.90" cy="498.30" r="4.82" fill="#fff" stroke="#2a2a2a" stroke-width="0.5"/>
<text transform="rotate(0.03 673.00 500.40)" x="673.00" y="500.40" font-size="5.85" fill="#000" stroke="#000" stroke-width="0.1" font-family="Liberation Sans, sans-serif">18</text>
</svg>
</body></html>
